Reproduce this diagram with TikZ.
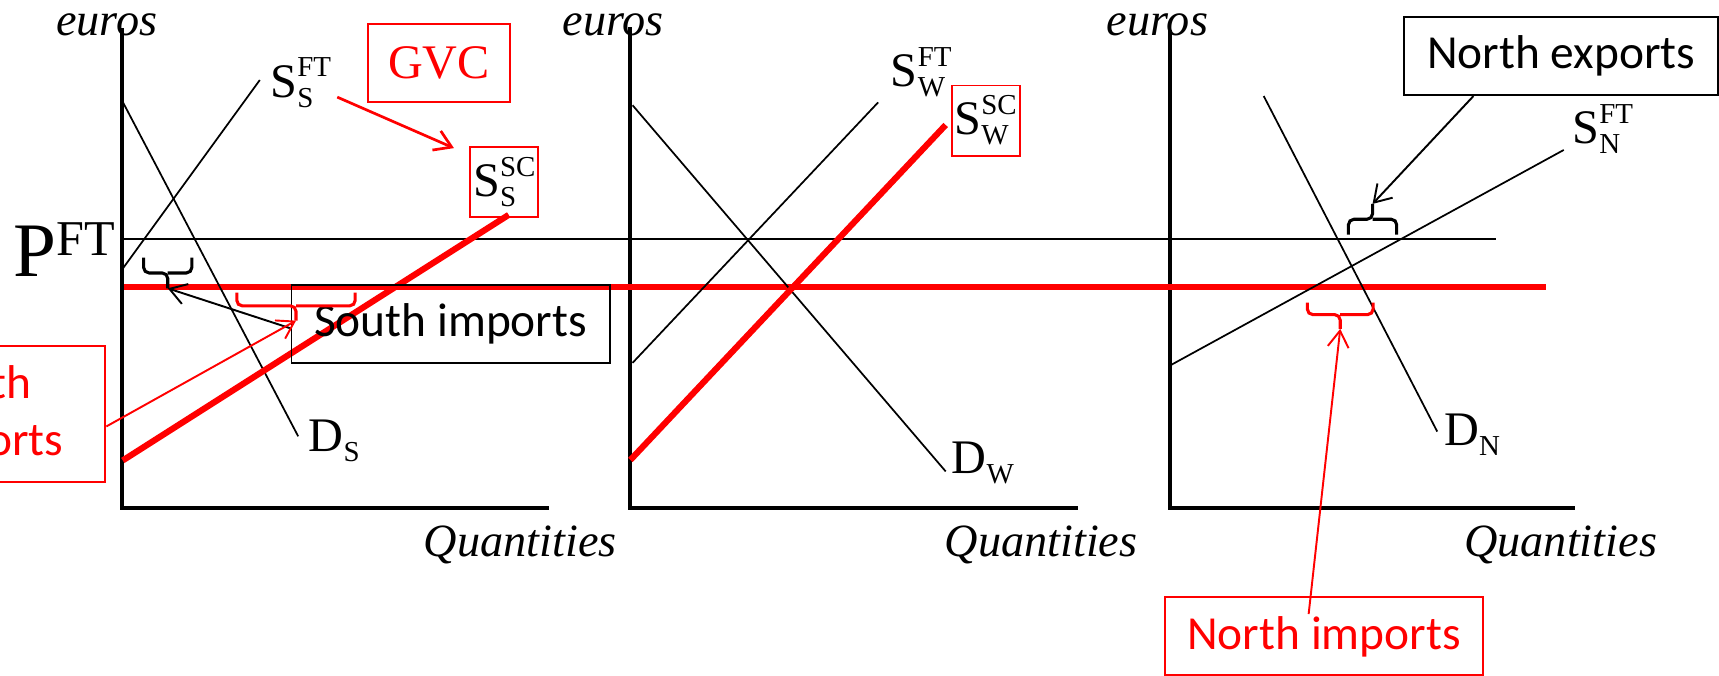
\documentclass[tikz,border=0pt]{standalone}
\usepackage{fontspec}
\setmainfont{Liberation Serif}
\newfontfamily\calibri{Carlito}
\usetikzlibrary{arrows.meta,positioning,calc}

\newdimen\crvwd
\newcommand{\idxfont}{\fontsize{7.5}{7.5}\selectfont}
% curve label: letter, subscript, superscript
\newcommand{\crv}[3]{#1\setbox0=\hbox{\idxfont #3}\setbox2=\hbox{\idxfont #2}%
  \crvwd=\wd0 \ifdim\wd2>\crvwd \crvwd=\wd2 \fi
  \rlap{\raise5.2pt\box0}\rlap{\lower2.6pt\box2}\hspace*{\crvwd}}

\begin{document}
\begin{tikzpicture}[
  x=0.01cm, y=-0.01cm,
  axisline/.style={line width=1.1pt},
  thinline/.style={line width=0.45pt},
  redline/.style={red, line width=1.6pt},
  axtext/.style={font=\fontsize{12}{12}\selectfont\itshape, inner sep=0pt, anchor=base west},
  lab/.style={font=\fontsize{12.5}{12.5}\selectfont, inner sep=0pt},
  callout/.style={draw, line width=0.5pt, font={\calibri\fontsize{12.3}{15}\selectfont}, inner xsep=0.2cm, minimum height=0.71cm},
  arr/.style={-{Straight Barb[length=0.15cm,width=0.19cm]}, line width=0.5pt},
  brc/.style={rounded corners=0.05cm, line width=0.8pt},
]
\useasboundingbox (0,0) rectangle (1568,616);

% axes
\draw[axisline] (111,26) |- (501,463.5);
\draw[axisline] (575,25) |- (983,463.5);
\draw[axisline] (1067,27) |- (1437,463.5);

% prices
\draw[thinline] (110,218) -- (1365,218);
\draw[redline] (113,262) -- (1410,262);

% South
\draw[thinline] (112,93) -- (272,398);
\draw[thinline] (112,245) -- (237,73);
\draw[redline] (112,420) -- (464,196);

% World
\draw[thinline] (577,96) -- (862.6,430);
\draw[thinline] (577,331) -- (801,93.4);
\draw[redline] (575,419.6) -- (862.6,114);

% North
\draw[thinline] (1152.7,87.6) -- (1311,393.7);
\draw[thinline] (1068,333) -- (1426.4,136.8);

% axis texts
\node[axtext] (eur1) at (50.6,32) {euros};
\node[axtext] (eur2) at (512.6,32) {euros};
\node[axtext] (eur3) at (1009,32) {euros};
\node[axtext] (qty1) at (386,508) {Quantities};
\node[axtext] (qty2) at (861,508) {Quantities};
\node[axtext] (qty3) at (1335,508) {Quantities};
\node[inner sep=0pt, anchor=base west] (pft) at (12,252)
  {\fontsize{20}{20}\selectfont P\raise5.4pt\hbox{\fontsize{13}{13}\selectfont FT}};

% curve labels
\node[lab, anchor=base west] (ssft) at (246,88.5) {\crv{S}{S}{FT}};
\node[lab, anchor=base west] (ds) at (281,412) {\crv{D}{S}{}};
\node[lab, anchor=base west] (swft) at (812,79) {\crv{S}{W}{FT}};
\node[lab, anchor=base west] (dw) at (867.6,431.7) {\crv{D}{W}{}};
\node[lab, anchor=base west] (snft) at (1433.7,130.7) {\crv{S}{N}{FT}};
\node[lab, anchor=base west] (dn) at (1316.7,406) {\crv{D}{N}{}};
\node[lab, draw=red, line width=0.5pt, minimum width=0.62cm, minimum height=0.64cm] (sssc) at (460,166) {\crv{S}{S}{SC}};
\node[lab, draw=red, line width=0.5pt, minimum width=0.62cm, minimum height=0.64cm] (swsc) at (899,110) {\crv{S}{W}{SC}};

% GVC shift
\node[draw=red, line width=0.5pt, text=red, font=\fontsize{12.5}{12.5}\selectfont, minimum width=1.29cm, minimum height=0.71cm] (gvc) at (400.5,57.5) {GVC};
\draw[arr, red, line width=0.7pt] ([xshift=0.05cm,yshift=0.1cm]ssft.south east) -- ([xshift=-0.14cm,yshift=-0.02cm]sssc.north west);

% trade boxes
\node[callout, minimum width=2.9cm] (simp) at (411,295.5) {South imports};
\node[callout, minimum width=2.86cm] (nexp) at (1424,51.3) {North exports};
\node[callout, draw=red, text=red, minimum width=2.9cm] (nimp) at (1207.7,580.5) {North imports};
\node[callout, draw=red, text=red, text width=1.6cm, align=left, inner xsep=0.1cm, minimum height=1.24cm, anchor=east] (sexp) at (97,378) {South\\exports};

% braces
\draw[brc] (131,235) |- (153,249) -- (153,263);
\draw[brc] (175,235) |- (153,249);
\coordinate (tipsimp) at (153,263);
\draw[brc, red] (216,267) |- (270,279) -- (270,292.5);
\draw[brc, red] (324,267) |- (270,279);
\coordinate (tipsexp) at (270,292.5);
\draw[brc] (1230,214) |- (1252,200) -- (1252,186);
\draw[brc] (1274,214) |- (1252,200);
\coordinate (tipnexp) at (1252,186);
\draw[brc, red] (1192.5,276) |- (1222.5,287) -- (1222.5,300);
\draw[brc, red] (1252.5,276) |- (1222.5,287);
\coordinate (tipnimp) at (1222.5,300);

% callout arrows
\draw[arr] ([yshift=-0.04cm]simp.west) -- (tipsimp);
\draw[arr, red] ([yshift=-0.11cm]sexp.east) -- (tipsexp);
\draw[arr] ([xshift=-0.8cm]nexp.south) -- (tipnexp);
\draw[arr, red] ([xshift=-0.14cm,yshift=-0.16cm]nimp.north) -- (tipnimp);

\end{tikzpicture}
\end{document}
